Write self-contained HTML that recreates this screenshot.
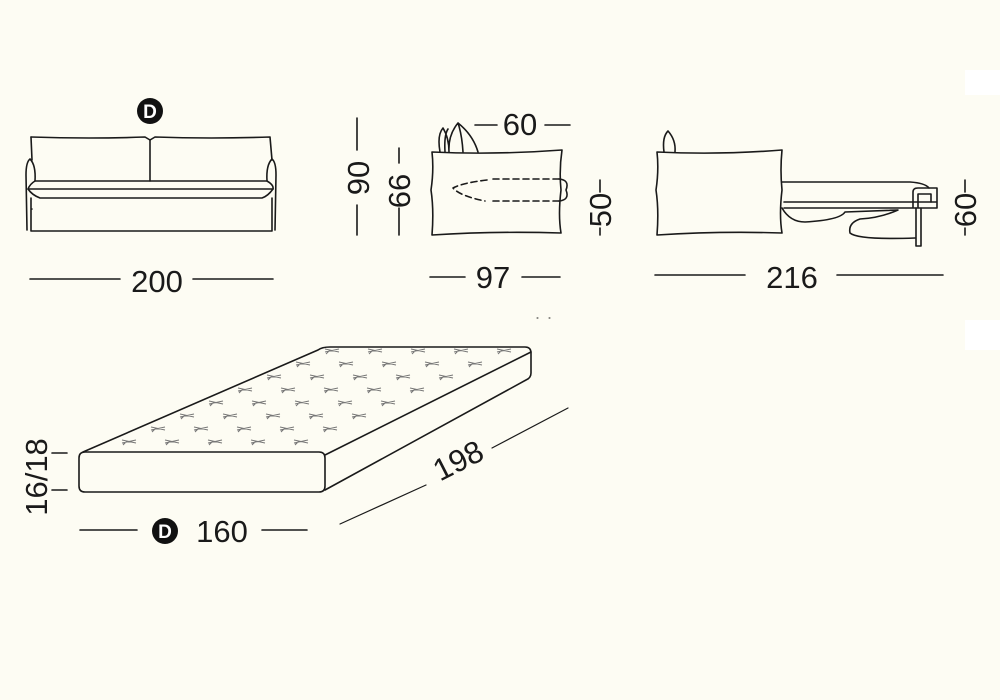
<!DOCTYPE html>
<html><head><meta charset="utf-8"><style>
html,body{margin:0;padding:0;background:#fdfcf3;}
svg{display:block}
text{font-family:"Liberation Sans",sans-serif;fill:#1a1a1a;}
</style></head><body>
<svg width="1000" height="700" viewBox="0 0 1000 700" xmlns="http://www.w3.org/2000/svg">
<rect width="1000" height="700" fill="#fdfcf3"/>
<rect x="965" y="70" width="35" height="25" fill="#fff"/>
<rect x="965" y="320" width="35" height="30" fill="#fff"/>
<g fill="none" stroke="#1a1a1a" stroke-width="1.6" stroke-linejoin="round" stroke-linecap="round">
<!-- Sofa front -->
<path d="M31,137 Q90,139 145,137 L150,140 L155,137 Q210,139 270,137 L272,160"/>
<path d="M31,137 L32,160"/>
<path d="M150,140 L150,181"/>
<path d="M30,159 Q26,162 26,175 L27,230 M30,159 Q36,165 35,181"/>
<path d="M272,159 Q276,162 276,175 L275,230 M272,159 Q266,165 267,181"/>
<path d="M35,181 L267,181 Q274,185 273,189 Q268,196 262,198 L40,198 Q32,195 28,189 Q30,184 35,181"/>
<path d="M28,189 L273,189"/>
<path d="M31,198 L31,231 L272,231 L272,198"/>
<!-- 200 -->
<path d="M32,209 L32,209"/>
<path d="M30,279 L120,279 M193,279 L273,279"/>
<!-- 90 / 66 -->
<path d="M357,118 L357,150 M357,205 L357,235"/>
<path d="M399,148 L399,163 M399,208 L399,235"/>
<!-- side view -->
<path d="M432,152 Q495,155 562,150 Q559,170 561,190 Q558,215 561,233 Q495,231 432,235 Q434,210 431,190 Q434,170 432,152 Z"/>
<path d="M440,152 Q437,135 443,128 Q449,138 449,152 M445,152 Q444,135 448,129 M449,152 Q448,135 458,123 Q473,135 478,152 M458,123 Q462,135 463,152"/>
<path d="M475,125 L497,125 M545,125 L570,125"/>
<path d="M559,179 L492,179 M559,201 L492,201" stroke-dasharray="6,4"/>
<path d="M487,180 Q462,183 453,188 Q460,196 485,201" stroke-dasharray="6,4"/>
<path d="M559,179 Q570,180 566,190 Q570,200 559,201"/>
<path d="M600,180 L600,192 M600,228 L600,235"/>
<path d="M430,277 L465,277 M522,277 L560,277"/>
<!-- open view -->
<path d="M657,152 Q720,155 782,150 Q780,170 782,190 Q779,215 782,233 Q720,231 657,235 Q659,210 656,190 Q659,170 657,152 Z"/>
<path d="M664,152 Q662,137 668,131 Q676,140 675,152"/>
<path d="M782,182 L910,182 Q925,183 929,188 L937,188 L937,208 L784,208 M784,202 L937,202"/>
<path d="M913,207 L913,192 Q913,188 918,188 L929,188 M918,207 L918,194 L931,194 L931,202"/>
<path d="M916,208 L916,246 L921,246 L921,208"/>
<path d="M782,208 Q790,222 805,222 Q840,220 845,212 L898,210 Q880,218 860,219 Q848,223 850,233 Q858,240 915,238"/>
<path d="M965,180 L965,192 M965,228 L965,235"/>
<path d="M655,275 L745,275 M837,275 L943,275"/>
<!-- mattress -->
<path d="M85,452 L319,452 Q325,452 325,458 L325,486 Q325,492 319,492 L85,492 Q79,492 79,486 L79,458 Q79,452 85,452 Z"/>
<path d="M83,452 L318,350 Q322,347 330,347 L525,347 Q531,347 531,353 L531,373 Q531,378 526,380 L325,490"/>
<path d="M325,455 L531,352"/>
<path d="M52,453 L67,453 M52,490 L67,490"/>
<path d="M80,530 L137,530 M262,530 L307,530"/>
<path d="M340,524 L426,485 M492,448 L568,408" stroke-width="1.2"/>
<path d="M537,318 L538,318 M549,318 L550,318" stroke-width="1"/>
</g>
<g stroke="#666" stroke-width="1" fill="none">
<!-- star marks -->
<g id="stars"></g>
</g>
<g stroke="#777" stroke-width="1">
<path d="M"/>
</g>
<g fill="#111">
<circle cx="150" cy="111" r="13"/>
<circle cx="165" cy="531" r="13"/>
</g>
<g font-weight="bold" font-size="19" text-anchor="middle" style="fill:#fff">
<text x="150" y="118" style="fill:#fff">D</text>
<text x="165" y="538" style="fill:#fff">D</text>
</g>
<g font-size="31" text-anchor="middle">
<text x="157" y="292">200</text>
<text x="493" y="288">97</text>
<text x="792" y="288">216</text>
<text x="520" y="135">60</text>
<text x="222" y="542">160</text>
<text transform="translate(369,178) rotate(-90)">90</text>
<text transform="translate(410,191) rotate(-90)">66</text>
<text transform="translate(611,210) rotate(-90)">50</text>
<text transform="translate(976,210) rotate(-90)">60</text>
<text transform="translate(47,477) rotate(-90)">16/18</text>
<text transform="translate(463,470) rotate(-27)">198</text>
</g>
<g stroke="#777" stroke-width="1" fill="none">
<path d="
M325,352 l14,-3 M325,349 l14,3 M330,350 l-4,4
M368,352 l14,-3 M368,349 l14,3 M373,350 l-4,4
M411,352 l14,-3 M411,349 l14,3 M416,350 l-4,4
M454,352 l14,-3 M454,349 l14,3 M459,350 l-4,4
M497,352 l14,-3 M497,349 l14,3 M502,350 l-4,4
M296,365 l14,-3 M296,362 l14,3 M301,363 l-4,4
M339,365 l14,-3 M339,362 l14,3 M344,363 l-4,4
M382,365 l14,-3 M382,362 l14,3 M387,363 l-4,4
M425,365 l14,-3 M425,362 l14,3 M430,363 l-4,4
M468,365 l14,-3 M468,362 l14,3 M473,363 l-4,4
M267,378 l14,-3 M267,375 l14,3 M272,376 l-4,4
M310,378 l14,-3 M310,375 l14,3 M315,376 l-4,4
M353,378 l14,-3 M353,375 l14,3 M358,376 l-4,4
M396,378 l14,-3 M396,375 l14,3 M401,376 l-4,4
M439,378 l14,-3 M439,375 l14,3 M444,376 l-4,4
M238,391 l14,-3 M238,388 l14,3 M243,389 l-4,4
M281,391 l14,-3 M281,388 l14,3 M286,389 l-4,4
M324,391 l14,-3 M324,388 l14,3 M329,389 l-4,4
M367,391 l14,-3 M367,388 l14,3 M372,389 l-4,4
M410,391 l14,-3 M410,388 l14,3 M415,389 l-4,4
M209,404 l14,-3 M209,401 l14,3 M214,402 l-4,4
M252,404 l14,-3 M252,401 l14,3 M257,402 l-4,4
M295,404 l14,-3 M295,401 l14,3 M300,402 l-4,4
M338,404 l14,-3 M338,401 l14,3 M343,402 l-4,4
M381,404 l14,-3 M381,401 l14,3 M386,402 l-4,4
M180,417 l14,-3 M180,414 l14,3 M185,415 l-4,4
M223,417 l14,-3 M223,414 l14,3 M228,415 l-4,4
M266,417 l14,-3 M266,414 l14,3 M271,415 l-4,4
M309,417 l14,-3 M309,414 l14,3 M314,415 l-4,4
M352,417 l14,-3 M352,414 l14,3 M357,415 l-4,4
M151,430 l14,-3 M151,427 l14,3 M156,428 l-4,4
M194,430 l14,-3 M194,427 l14,3 M199,428 l-4,4
M237,430 l14,-3 M237,427 l14,3 M242,428 l-4,4
M280,430 l14,-3 M280,427 l14,3 M285,428 l-4,4
M323,430 l14,-3 M323,427 l14,3 M328,428 l-4,4
M122,443 l14,-3 M122,440 l14,3 M127,441 l-4,4
M165,443 l14,-3 M165,440 l14,3 M170,441 l-4,4
M208,443 l14,-3 M208,440 l14,3 M213,441 l-4,4
M251,443 l14,-3 M251,440 l14,3 M256,441 l-4,4
M294,443 l14,-3 M294,440 l14,3 M299,441 l-4,4"/>
</g>
</svg>
</body></html>
